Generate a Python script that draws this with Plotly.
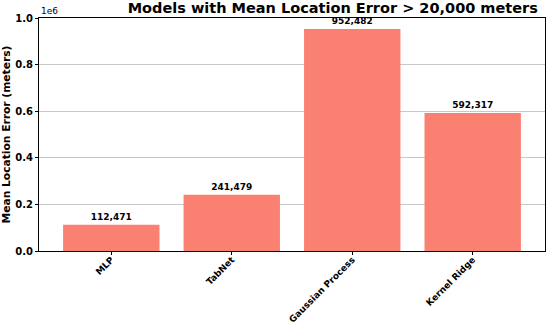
import plotly.graph_objects as go

models = ["MLP", "TabNet", "Gaussian Process", "Kernel Ridge"]
mean_errors = [112471, 241479, 952482, 592317]
y_ticks = [0, 200000, 400000, 600000, 800000, 1000000]

font_family = "DejaVu Sans"

fig = go.Figure()

fig.add_trace(go.Bar(
    x=models,
    y=mean_errors,
    width=0.8,
    marker=dict(color="#FA8072", line=dict(width=0)),
    text=[f"{v:,}" for v in mean_errors],
    textposition="outside",
    textfont=dict(family=font_family, size=9, color="black", weight="bold"),
    cliponaxis=False,
))

fig.update_layout(
    template="plotly_white",
    width=550,
    height=324,
    margin=dict(l=39, r=5, t=18, b=73, autoexpand=False),
    paper_bgcolor="white",
    plot_bgcolor="white",
    showlegend=False,
    uniformtext=dict(minsize=9, mode="show"),
    font=dict(family=font_family, color="black"),
    title=dict(
        text="<b>Models with Mean Location Error > 20,000 meters</b>",
        x=0.605, xanchor="center", y=0.992, yanchor="top",
        font=dict(family=font_family, size=14.5, color="black"),
    ),
    xaxis=dict(
        automargin=False,
        range=[-0.6, 3.6],
        showgrid=False,
        showline=True,
        linecolor="black",
        linewidth=1,
        mirror=True,
        ticks="outside",
        ticklen=3,
        tickcolor="black",
        tickangle=-45,
        ticklabelstandoff=-4,
        tickfont=dict(family=font_family, size=9, color="black", weight="bold"),
    ),
    yaxis=dict(
        automargin=False,
        title=dict(text="<b>Mean Location Error (meters)</b>",
                   font=dict(family=font_family, size=10.7, color="black"),
                   standoff=4),
        range=[0, 1000000],
        tickvals=y_ticks,
        ticktext=[f"{v / 1e6:.1f}" for v in y_ticks],
        showgrid=True,
        gridcolor="#c8c8c8",
        gridwidth=1,
        showline=True,
        linecolor="black",
        linewidth=1,
        mirror=True,
        ticks="outside",
        ticklen=3,
        tickcolor="black",
        tickfont=dict(family=font_family, size=10, color="black", weight="bold"),
        zeroline=False,
    ),
    annotations=[dict(
        text="1e6", xref="paper", yref="paper", x=0, y=1.0,
        xanchor="left", yanchor="bottom", showarrow=False,
        font=dict(family=font_family, size=9, color="black"),
    )],
)

# drop the default page margin so the figure sits at the window's corner
fig.write_html("out.html", config={"displayModeBar": False},
               post_script="document.body.style.margin='0';")
